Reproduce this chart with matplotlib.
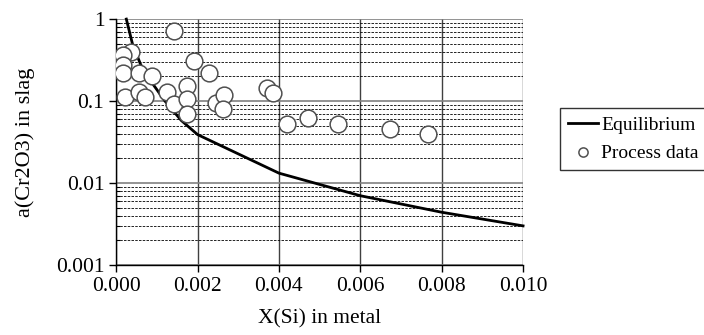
import numpy as np
import matplotlib.pyplot as plt
from matplotlib.ticker import FixedLocator, LogLocator, NullFormatter

plt.rcParams['font.family'] = ['Liberation Serif', 'DejaVu Serif']

# Equilibrium curve
eq_x = [0.00025, 0.0004, 0.0006, 0.0008, 0.0012, 0.0016, 0.002, 0.004, 0.006, 0.008, 0.010]
eq_y = [1.0, 0.5, 0.28, 0.19, 0.10, 0.058, 0.039, 0.0132, 0.0070, 0.0044, 0.0030]

# Process data
proc_x = [0.00143, 0.00037, 0.00016, 0.00016, 0.00016, 0.00055, 0.00088, 0.00022,
          0.00055, 0.0007, 0.00126, 0.00143, 0.00175, 0.00175, 0.00173, 0.00192,
          0.00229, 0.00245, 0.00265, 0.00263, 0.0037, 0.00385, 0.00421, 0.00472,
          0.00544, 0.00674, 0.00767]
proc_y = [0.71, 0.40, 0.36, 0.275, 0.22, 0.22, 0.20, 0.113,
          0.13, 0.113, 0.128, 0.092, 0.152, 0.105, 0.069, 0.31,
          0.22, 0.094, 0.117, 0.08, 0.143, 0.124, 0.053, 0.063,
          0.053, 0.046, 0.040]

xticks = [0.000, 0.002, 0.004, 0.006, 0.008, 0.010]
yticks = [0.001, 0.01, 0.1, 1]
ytick_labels = ['0.001', '0.01', '0.1', '1']

fig = plt.figure(figsize=(7.04, 3.35), dpi=100)
ax = fig.add_axes([0.165, 0.209, 0.578, 0.734])

ax.set_yscale('log')
ax.set_xlim(0, 0.010)
ax.set_ylim(0.001, 1)

# gridlines
ax.yaxis.set_major_locator(FixedLocator(yticks))
ax.yaxis.set_minor_locator(LogLocator(base=10, subs=np.arange(2, 10)))
ax.yaxis.set_minor_formatter(NullFormatter())
ax.set_yticklabels(ytick_labels)
ax.set_xticks(xticks)
ax.set_xticklabels(['%.3f' % t for t in xticks])

ax.grid(True, which='minor', axis='y', color='black', linestyle=(0, (3, 1.5)), linewidth=0.6)
ax.grid(True, which='major', axis='y', color='#808080', linestyle='-', linewidth=1.2)
ax.grid(True, which='major', axis='x', color='#404040', linestyle='-', linewidth=1.0)
ax.set_axisbelow(True)

for s in ['top', 'right']:
    ax.spines[s].set_visible(False)
for s in ['left', 'bottom']:
    ax.spines[s].set_color('black')
    ax.spines[s].set_linewidth(1.0)

ax.tick_params(axis='both', which='major', direction='out', length=5, labelsize=15.5, width=1)
ax.tick_params(axis='y', which='minor', direction='in', length=3, width=0.8)

ax.plot(eq_x, eq_y, color='black', linewidth=2.0, label='Equilibrium', zorder=3, clip_on=False)
ax.scatter(proc_x, proc_y, s=145, facecolor='white', edgecolor='#505050', linewidth=1.1,
           label='Process data', zorder=4)

ax.set_xlabel('X(Si) in metal', fontsize=15.5, labelpad=10)
ax.set_ylabel('a(Cr2O3) in slag', fontsize=16, labelpad=8)
ax.yaxis.set_label_coords(-0.2, 0.5)

leg = ax.legend(loc='upper left', bbox_to_anchor=(0.795, 0.678), bbox_transform=fig.transFigure,
                fontsize=14, frameon=True, fancybox=False, edgecolor='black',
                handlelength=1.5, handletextpad=0.2, borderpad=0.45, labelspacing=0.5,
                markerscale=0.55, borderaxespad=0)
leg.get_frame().set_linewidth(1.0)

fig.savefig('out.png', dpi=100)
